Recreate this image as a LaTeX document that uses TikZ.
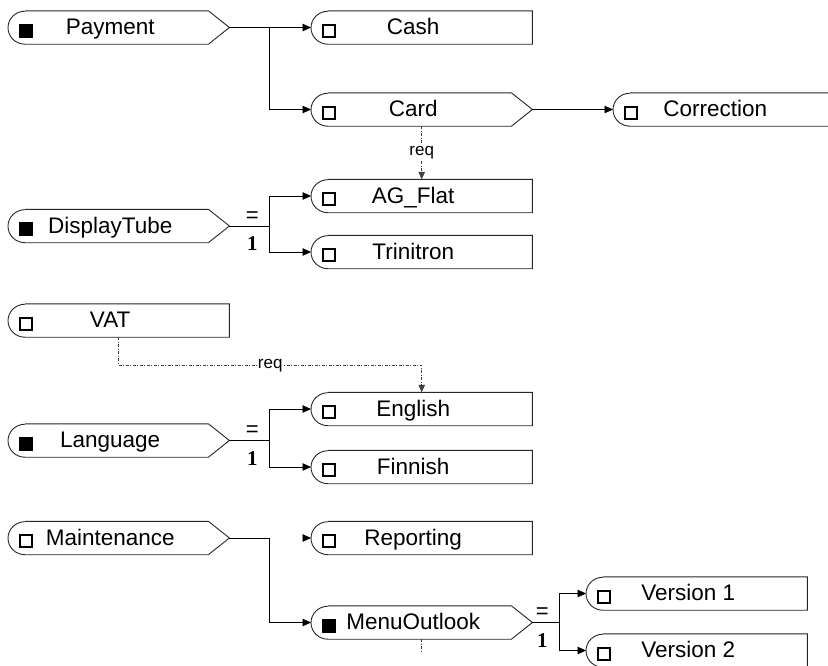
\documentclass[tikz,border=0pt]{standalone}
\usepackage{fontspec}
\setmainfont{Liberation Sans}
\newfontfamily\numfont{Liberation Serif}
\usetikzlibrary{arrows.meta,calc}

\begin{document}
\begin{tikzpicture}[x=1pt,y=1pt,
    feat/.style={anchor=west,minimum width=221pt,minimum height=33pt,inner sep=0pt,
      text height=17pt,text depth=3pt,font=\fontsize{22.5}{26}\selectfont,
      execute at begin node={\hbox to 204pt\bgroup\hfil},
      execute at end node={\hfil\egroup\hskip17pt}},
    outline/.style={draw=black!85,line width=0.9pt},
    chk/.style={draw=black,line width=2pt,fill=white},
    arr/.style={line width=0.9pt,-{Triangle[length=8.5pt,width=7.5pt]}},
    req/.style={draw=black!75,line width=0.8pt,dash pattern=on 3pt off 1.5pt on 1pt off 1.5pt,
      -{Triangle[length=7.5pt,width=6.5pt]}},
    reqlbl/.style={fill=white,inner sep=1pt,text=black,font=\fontsize{17}{19}\selectfont},
    eqlbl/.style={inner sep=0pt,font=\fontsize{22}{23}\selectfont},
    onelbl/.style={inner sep=0pt,font=\numfont\bfseries\fontsize{21}{22}\selectfont}]
    \useasboundingbox (0,0) rectangle (828,-665);
    \clip (0,0) rectangle (828,-665);

    \node[feat] (pay) at (8,-27.5) {Payment};
    \node[feat] (cash) at (311,-27.5) {Cash};
    \node[feat] (card) at (311,-109.5) {Card};
    \node[feat] (corr) at (613,-109.5) {Correction};
    \node[feat] (agf) at (311,-196) {AG\_Flat};
    \node[feat] (disp) at (8,-226) {DisplayTube};
    \node[feat] (trin) at (311,-252) {Trinitron};
    \node[feat] (vat) at (8,-320.5) {VAT};
    \node[feat] (eng) at (311,-409) {English};
    \node[feat] (lang) at (8,-440.5) {Language};
    \node[feat] (fin) at (311,-467) {Finnish};
    \node[feat] (maint) at (8,-538) {Maintenance};
    \node[feat] (rep) at (311,-538) {Reporting};
    \node[feat] (menu) at (311,-622.5) {MenuOutlook};
    \node[feat] (v1) at (586,-593.5) {Version 1};
    \node[feat] (v2) at (586,-650.5) {Version 2};

    % group features end in a point, leaves are square on the right
    \foreach \n in {pay,card,disp,lang,maint,menu}
      \draw[outline] ($(\n.north west)+(17,0)$) -- ($(\n.north east)+(-21,0)$) -- (\n.east)
        -- ($(\n.south east)+(-21,0)$) -- ($(\n.south west)+(17,0)$)
        arc[start angle=270,end angle=90,x radius=17,y radius=16.5];
    \foreach \n in {cash,corr,agf,trin,vat,eng,fin,rep,v1,v2}
      \draw[outline] ($(\n.north west)+(17,0)$) -- (\n.north east) -- (\n.south east)
        -- ($(\n.south west)+(17,0)$)
        arc[start angle=270,end angle=90,x radius=17,y radius=16.5];

    \foreach \n in {pay,disp,lang,menu}
      \draw[chk,fill=black] ($(\n.west)+(11.5,-9)$) rectangle ++(12,12);
    \foreach \n in {cash,card,corr,agf,trin,vat,eng,fin,maint,rep,v1,v2}
      \draw[chk] ($(\n.west)+(11.5,-9)$) rectangle ++(12,12);

    \draw[arr] (pay.east) -- (cash.west);
    \draw[arr] ($(pay.east)+(40,0)$) |- (card.west);
    \draw[arr] (card.east) -- (corr.west);
    \draw[req] (card.south) -- node[reqlbl] (r1) {req} (agf.north);

    \draw (disp.east) -- ++(40,0) coordinate (dj);
    \draw[arr] (dj) |- (agf.west);
    \draw[arr] (dj) |- (trin.west);
    \node[eqlbl] (deq) at ($(dj)+(-17,9)$) {=};
    \node[onelbl] (done) at ($(dj)+(-17,-18)$) {1};

    \draw[req] (vat.south) -- ++(0,-28) -| node[reqlbl,pos=0.25] (r2) {req} (eng.north);

    \draw (lang.east) -- ++(40,0) coordinate (lj);
    \draw[arr] (lj) |- (eng.west);
    \draw[arr] (lj) |- (fin.west);
    \node[eqlbl] (leq) at ($(lj)+(-17,9)$) {=};
    \node[onelbl] (lone) at ($(lj)+(-17,-18)$) {1};

    \coordinate (rs) at ($(rep.west)+(-8.5,0)$);
    \draw[arr] (rs) -- (rep.west);
    \draw[arr] (maint.east) -- ++(40,0) |- (menu.west);

    \draw (menu.east) -- ++(27,0) coordinate (mj);
    \draw[arr] (mj) |- (v1.west);
    \draw[arr] (mj) |- (v2.west);
    \node[eqlbl] (meq) at ($(mj)+(-17,9)$) {=};
    \node[onelbl] (mone) at ($(mj)+(-17,-18)$) {1};
    \coordinate (ms) at ($(menu.south)+(0,-13)$);
    \draw[req,-] (menu.south) -- (ms);
\end{tikzpicture}
\end{document}
